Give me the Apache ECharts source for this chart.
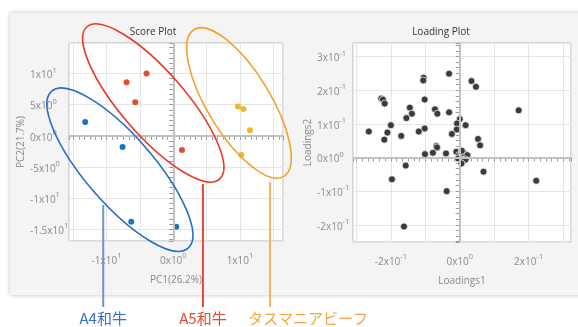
<!DOCTYPE html>
<html>
<head>
<meta charset="utf-8">
<script src="https://cdn.jsdelivr.net/npm/echarts@6/dist/echarts.min.js"></script>
<style>
  html, body { margin:0; padding:0; background:#fff; width:578px; height:327px; overflow:hidden; }
  #card { position:absolute; left:10px; top:13px; width:580px; height:282px; background:#f4f4f4; box-shadow:0 0 4px rgba(0,0,0,0.28); }
  #chart { position:absolute; left:0; top:0; width:578px; height:327px; }
</style>
</head>
<body>
<div id="card"></div>
<div id="chart"></div>
<script>
// ---- data ----
const scoreTitle = 'Score Plot';
const loadingTitle = 'Loading Plot';
const scoreXName = 'PC1(26.2%)';
const scoreYName = 'PC2(21.7%)';
const loadXName = 'Loadings1';
const loadYName = 'Loadings2';
const groupNames = ['A4和牛', 'A5和牛', 'タスマニアビーフ'];
const scoreA4 = [[-13.2, 2.2], [-7.6, -1.8], [-6.3, -13.8], [0.45, -14.6]];
const scoreA5 = [[-4.0, 10.0], [-7.0, 8.6], [-5.7, 5.4], [1.3, -2.3]];
const scoreTas = [[9.7, 4.7], [10.5, 4.3], [11.5, 0.9], [10.2, -3.1]];
const loadings = [
  [-0.031, 0.249], [-0.105, 0.237], [-0.106, 0.229], [0.034, 0.227], [0.047, 0.210],
  [-0.228, 0.175], [-0.223, 0.172], [-0.218, 0.160], [-0.102, 0.172], [0.171, 0.140],
  [-0.145, 0.148], [-0.139, 0.130], [-0.072, 0.143], [-0.065, 0.130], [-0.031, 0.134],
  [-0.155, 0.117], [0.000, 0.114], [-0.008, 0.101], [0.017, 0.096], [-0.200, 0.096],
  [-0.102, 0.086], [-0.009, 0.083], [-0.264, 0.077], [-0.210, 0.074], [-0.119, 0.077],
  [-0.170, 0.064], [-0.023, 0.070], [-0.219, 0.053], [0.053, 0.055], [0.059, 0.036],
  [-0.068, 0.034], [-0.066, 0.030], [-0.101, 0.010], [-0.078, 0.014], [-0.040, 0.012],
  [-0.010, 0.017], [-0.002, 0.007], [0.005, 0.010], [0.013, 0.012], [0.022, 0.007],
  [-0.005, -0.003], [0.010, -0.008], [0.017, -0.006], [0.005, -0.018], [0.006, 0.020],
  [-0.157, -0.024], [-0.197, -0.065], [0.069, -0.042], [0.222, -0.069], [-0.038, -0.100],
  [-0.162, -0.205]
];
// axis extents (data units)
const scoreXRange = [-15.63, 16.45];
const scoreYRange = [-16.9, 14.9];
const loadXRange = [-0.310, 0.323];
const loadYRange = [-0.251, 0.340];

// ---- annotation geometry (ellipse centres in score-plot data units) ----
const annot = [
  { cx: -8.0, cy: -5.45, rx: 104, ry: 34, angle: 49, color: '#2a6cc2', lineColor: '#7393d0', textColor: '#3a70c0', lineX: -10.5, lineTop: 205, textLeft: null },
  { cx: -3.0, cy: 5.27, rx: 101, ry: 32, angle: 49, color: '#e8392a', lineColor: '#e8473a', textColor: '#e44a34', lineX: 4.45, lineTop: 184, textLeft: null },
  { cx: 9.85, cy: 5.27, rx: 86, ry: 31.5, angle: 58.6, color: '#f5a02a', lineColor: '#f5b264', textColor: '#f2a440', lineX: 14.5, lineTop: 182, textLeft: 248 }
];

function sci(v) {
  if (Math.abs(v) < 1e-9) return '{m|0x10}{e|0}';
  const exp = Math.floor(Math.log10(Math.abs(v)) + 1e-9);
  const mant = +(v / Math.pow(10, exp)).toFixed(2);
  return '{m|' + mant + 'x10}{e|' + exp + '}';
}
function isMult(v, step) { return Math.abs(Math.round(v / step) * step - v) < 1e-7; }

const rich = {
  m: { fontSize: 10, color: '#8a8a8a', padding: [4, 0, 0, 0], fontFamily: 'Open Sans' },
  e: { fontSize: 7.5, color: '#8a8a8a', verticalAlign: 'top', lineHeight: 8, fontFamily: 'Open Sans' }
};

function xAxisCfg(gi, range, step, name) {
  return {
    gridIndex: gi, type: 'value', min: range[0], max: range[1],
    name: name, nameLocation: 'middle', nameGap: 34,
    nameTextStyle: { color: '#888', fontSize: 10, fontFamily: 'Open Sans' },
    axisLine: { show: false },
    axisTick: { show: true, length: 4, lineStyle: { color: '#9a9a9a' } },
    minorTick: { show: true, splitNumber: 6, length: 4, lineStyle: { color: '#9a9a9a' } },
    splitLine: { show: true, lineStyle: { color: '#e6e6e6' } },
    axisLabel: { margin: 11, formatter: v => isMult(v, step) ? sci(v) : '', rich: rich, showMinLabel: false, showMaxLabel: false }
  };
}
function yAxisCfg(gi, range, step, name, margin, nameGap) {
  return {
    gridIndex: gi, type: 'value', min: range[0], max: range[1],
    name: name, nameLocation: 'middle', nameGap: nameGap,
    nameTextStyle: { color: '#888', fontSize: 10, fontFamily: 'Open Sans' },
    axisLine: { show: false },
    axisTick: { show: true, length: 4, lineStyle: { color: '#9a9a9a' } },
    minorTick: { show: true, splitNumber: 6, length: 4, lineStyle: { color: '#9a9a9a' } },
    splitLine: { show: true, lineStyle: { color: '#e6e6e6' } },
    axisLabel: { margin: margin, align: 'left', formatter: v => isMult(v, step) ? sci(v) : '', rich: rich, showMinLabel: false, showMaxLabel: false }
  };
}
function zeroLines(xi, yi) {
  return {
    type: 'scatter', xAxisIndex: xi, yAxisIndex: yi, data: [], z: 1, silent: true,
    markLine: { silent: true, symbol: 'none', label: { show: false },
      lineStyle: { color: '#c2c2c2', width: 2, type: 'solid' },
      data: [{ xAxis: 0 }, { yAxis: 0 }] }
  };
}

const chart = echarts.init(document.getElementById('chart'), null, { renderer: 'canvas' });
const option = {
  animation: false,
  title: [
    { text: scoreTitle, left: 148, top: 22, textAlign: 'center', textStyle: { fontSize: 10, fontWeight: 'normal', color: '#333', fontFamily: 'Open Sans' } },
    { text: loadingTitle, left: 436, top: 22, textAlign: 'center', textStyle: { fontSize: 10, fontWeight: 'normal', color: '#333', fontFamily: 'Open Sans' } }
  ],
  grid: [
    { left: 69, top: 43, width: 214, height: 198, show: true, backgroundColor: '#fff', borderColor: '#b5b5b5', borderWidth: 1 },
    { left: 353, top: 43, width: 218, height: 199, show: true, backgroundColor: '#fff', borderColor: '#b5b5b5', borderWidth: 1 }
  ],
  xAxis: [ xAxisCfg(0, scoreXRange, 10, scoreXName), xAxisCfg(1, loadXRange, 0.2, loadXName) ],
  yAxis: [ yAxisCfg(0, scoreYRange, 5, scoreYName, 39, 40), yAxisCfg(1, loadYRange, 0.1, loadYName, 36, 37) ],
  series: [
    zeroLines(0, 0),
    zeroLines(1, 1),
    { type: 'scatter', xAxisIndex: 0, yAxisIndex: 0, data: scoreA4, symbolSize: 6, z: 3, itemStyle: { color: '#1a74c0', opacity: 1 } },
    { type: 'scatter', xAxisIndex: 0, yAxisIndex: 0, data: scoreA5, symbolSize: 6, z: 3, itemStyle: { color: '#e14b30', opacity: 1 } },
    { type: 'scatter', xAxisIndex: 0, yAxisIndex: 0, data: scoreTas, symbolSize: 6, z: 3, itemStyle: { color: '#f0b62c', opacity: 1 } },
    { type: 'scatter', xAxisIndex: 1, yAxisIndex: 1, data: loadings, symbolSize: 7, z: 3, itemStyle: { color: '#3b3b3b', borderColor: '#fff', borderWidth: 0.7, opacity: 1 } }
  ]
};
chart.setOption(option);

// annotations placed through the chart's own coordinate conversion
const graphics = [];
const bottomY = 307;
annot.forEach((a, i) => {
  const c = chart.convertToPixel({ gridIndex: 0 }, [a.cx, a.cy]);
  graphics.push({ type: 'ellipse', x: c[0], y: c[1], rotation: -a.angle * Math.PI / 180,
    shape: { cx: 0, cy: 0, rx: a.rx, ry: a.ry }, style: { fill: 'none', stroke: a.color, lineWidth: 1.6 }, z: 100, silent: true });
  const lx = chart.convertToPixel({ gridIndex: 0 }, [a.lineX, 0])[0];
  graphics.push({ type: 'line', shape: { x1: lx, y1: a.lineTop, x2: lx, y2: bottomY }, style: { stroke: a.lineColor, lineWidth: 2 }, z: 100, silent: true });
  const tl = a.textLeft != null;
  graphics.push({ type: 'text', x: tl ? a.textLeft : lx, y: 311, z: 100, silent: true,
    style: { text: groupNames[i], fill: a.textColor, font: '15px "Noto Sans CJK JP"', textAlign: tl ? 'left' : 'center', textVerticalAlign: 'top' } });
});
chart.setOption({ graphic: graphics });
</script>
</body>
</html>
